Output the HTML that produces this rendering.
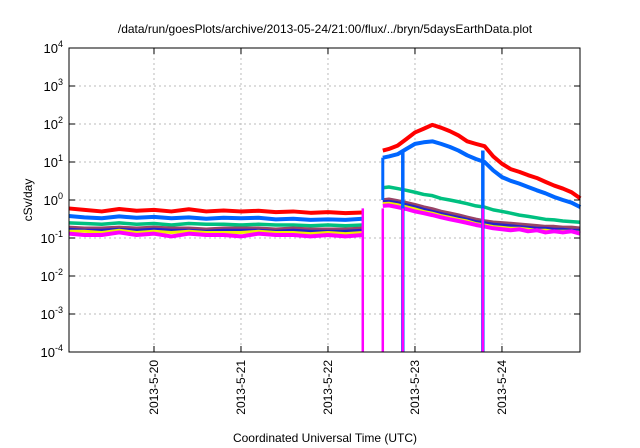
<!DOCTYPE html>
<html><head><meta charset="utf-8"><style>
body{margin:0;background:#fff;}
svg{display:block;font-family:"Liberation Sans",sans-serif;}
</style></head><body>
<svg id="chart" width="640" height="448" viewBox="0 0 640 448" xmlns="http://www.w3.org/2000/svg">
<text x="325" y="33" font-size="12" text-anchor="middle">/data/run/goesPlots/archive/2013-05-24/21:00/flux/../bryn/5daysEarthData.plot</text>
<g id="grid"></g>
<g id="series"></g>
<rect x="69" y="48" width="511" height="304" fill="none" stroke="#000" stroke-width="1"/>
<g id="axes"></g>
<text transform="translate(32,200) rotate(-90)" font-size="12" text-anchor="middle">cSv/day</text>
<text x="325" y="442" font-size="12" text-anchor="middle">Coordinated Universal Time (UTC)</text>
</svg>
<script>
const xTickDays=[1,2,3,4,5];
const xTickLabels=["2013-5-20","2013-5-21","2013-5-22","2013-5-23","2013-5-24"];
const yTickExps=[-4,-3,-2,-1,0,1,2,3,4];
const t1=[0.02,0.2,0.4,0.6,0.8,1.0,1.2,1.4,1.6,1.8,2.0,2.2,2.4,2.6,2.8,3.0,3.2,3.4];
const t2=[3.63,3.7,3.8,3.9,4.0,4.1,4.2,4.3,4.4,4.5,4.6,4.7,4.8,4.9,5.0,5.1,5.2,5.3,5.4,5.5,5.6,5.7,5.8,5.9];
const red1=[0.6,0.55,0.5,0.58,0.52,0.55,0.5,0.57,0.5,0.53,0.5,0.52,0.48,0.5,0.46,0.48,0.45,0.47];
const red2=[20,22,27,40,60,75,95,80,65,50,35,30,26,14,9,6.5,5.5,4.5,3.8,3,2.4,2,1.6,1.1];
const blue1=[0.38,0.35,0.33,0.37,0.34,0.36,0.33,0.35,0.32,0.34,0.33,0.34,0.31,0.32,0.3,0.31,0.3,0.32];
const blue2=[13,14,16,22,30,33,35,30,25,20,15,12,10,6,4,3.2,2.7,2.2,1.8,1.5,1.2,1,0.85,0.65];
const green1=[0.25,0.24,0.23,0.25,0.23,0.24,0.22,0.24,0.23,0.23,0.22,0.23,0.22,0.22,0.21,0.22,0.21,0.22];
const green2=[2.1,2.2,2.0,1.8,1.6,1.4,1.3,1.1,1.0,0.9,0.8,0.7,0.65,0.55,0.5,0.45,0.4,0.37,0.34,0.31,0.3,0.28,0.27,0.26];
const purple1=[0.19,0.18,0.18,0.19,0.18,0.19,0.18,0.18,0.17,0.18,0.18,0.18,0.17,0.18,0.17,0.17,0.17,0.18];
const purple2=[1.0,1.05,0.95,0.85,0.75,0.65,0.58,0.5,0.45,0.4,0.35,0.31,0.28,0.26,0.25,0.24,0.23,0.22,0.21,0.2,0.2,0.19,0.19,0.18];
const navy1=[0.17,0.16,0.16,0.17,0.16,0.17,0.16,0.16,0.15,0.16,0.16,0.16,0.15,0.16,0.15,0.15,0.15,0.16];
const navy2=[0.9,0.92,0.85,0.75,0.66,0.57,0.5,0.44,0.39,0.35,0.31,0.27,0.25,0.23,0.22,0.21,0.2,0.19,0.18,0.18,0.17,0.17,0.16,0.16];
const yellow1=[0.15,0.15,0.14,0.16,0.14,0.15,0.14,0.15,0.14,0.14,0.14,0.15,0.14,0.14,0.13,0.14,0.13,0.14];
const yellow2=[0.8,0.82,0.75,0.66,0.58,0.5,0.45,0.39,0.35,0.31,0.28,0.24,0.22,0.2,0.19,0.18,0.18,0.17,0.16,0.16,0.15,0.15,0.15,0.14];
const magenta1=[0.13,0.12,0.12,0.14,0.12,0.13,0.11,0.13,0.12,0.12,0.11,0.13,0.12,0.12,0.11,0.12,0.11,0.12];
const magenta2=[0.7,0.72,0.65,0.58,0.5,0.45,0.4,0.35,0.31,0.28,0.25,0.22,0.2,0.18,0.17,0.16,0.17,0.15,0.16,0.14,0.15,0.14,0.15,0.13];
const dropoutDays=[3.40,3.63,3.86,4.78];
const blueDropoutDays=[3.86,4.78];

const L=69,R=580,T=48,B=352,xMin=0.023,xMax=5.897,yMinE=-4,yMaxE=4;
const NS="http://www.w3.org/2000/svg";
function X(d){return L+(d-xMin)/(xMax-xMin)*(R-L);}
function Y(v){return B-(Math.log10(v)-yMinE)/(yMaxE-yMinE)*(B-T);}
function mk(tag,attrs,parent){const e=document.createElementNS(NS,tag);for(const k in attrs)e.setAttribute(k,attrs[k]);parent.appendChild(e);return e;}
const grid=document.getElementById('grid'),axes=document.getElementById('axes'),ser=document.getElementById('series');
yTickExps.forEach(e=>{
  const y=Y(Math.pow(10,e));
  if(e>yMinE&&e<yMaxE){const g=mk('line',{x1:L,x2:R,y1:y,y2:y,stroke:'#bbb','stroke-dasharray':'2,3'},grid);
  
  }
  const tk=mk('path',{d:`M${L},${y}h6M${R},${y}h-6`,stroke:'#000'},axes);
  
  
  const t=mk('text',{x:L-6,y:y+5,'font-size':'13','text-anchor':'end'},axes);
  
  
  t.innerHTML=`10<tspan dy="-6" font-size="9">${e}</tspan>`;
});
xTickDays.forEach((d,i)=>{
  const x=X(d);
  const g=mk('line',{x1:x,x2:x,y1:T,y2:B,stroke:'#bbb','stroke-dasharray':'2,3'},grid);
  
  
  const tk=mk('path',{d:`M${x},${B}v-6M${x},${T}v6`,stroke:'#000'},axes);
  
  
  const t=mk('text',{transform:`translate(${x+4},360) rotate(-90)`,'font-size':'12','text-anchor':'end'},axes);
  
  
  t.textContent=xTickLabels[i];
});
const seriesList=[
 ['red','#ff0000',red1,red2,4],['blue','#0066ff',blue1,blue2,4],['green','#00c080',green1,green2,3.5],
 ['purple','#994466',purple1,purple2,3.5],['navy','#2222cc',navy1,navy2,3],['yellow','#eeee00',yellow1,yellow2,3],
 ['magenta','#ff00ff',magenta1,magenta2,4]];
seriesList.forEach(([n,c,a,b,w])=>{
  [[t1,a],[t2,b]].forEach(([ts,vs])=>{
    const p=mk('polyline',{points:ts.map((t,i)=>X(t)+','+Y(vs[i])).join(' '),fill:'none',stroke:c,'stroke-width':w,'stroke-linejoin':'round'},ser);
    
    
  });
});
const bs=mk('line',{x1:X(t2[0]),x2:X(t2[0]),y1:Y(blue2[0]),y2:Y(purple2[0]),stroke:'#0066ff','stroke-width':'3'},ser);


blueDropoutDays.forEach(d=>{
  const l=mk('line',{x1:X(d),x2:X(d),y1:Y(20),y2:B,stroke:'#0066ff','stroke-width':'3.5'},ser);
  
  
});
dropoutDays.forEach(d=>{
  const l=mk('line',{x1:X(d),x2:X(d),y1:Y(0.6),y2:B,stroke:'#ff00ff','stroke-width':'2.5'},ser);
  
  
});
</script>
</body></html>
